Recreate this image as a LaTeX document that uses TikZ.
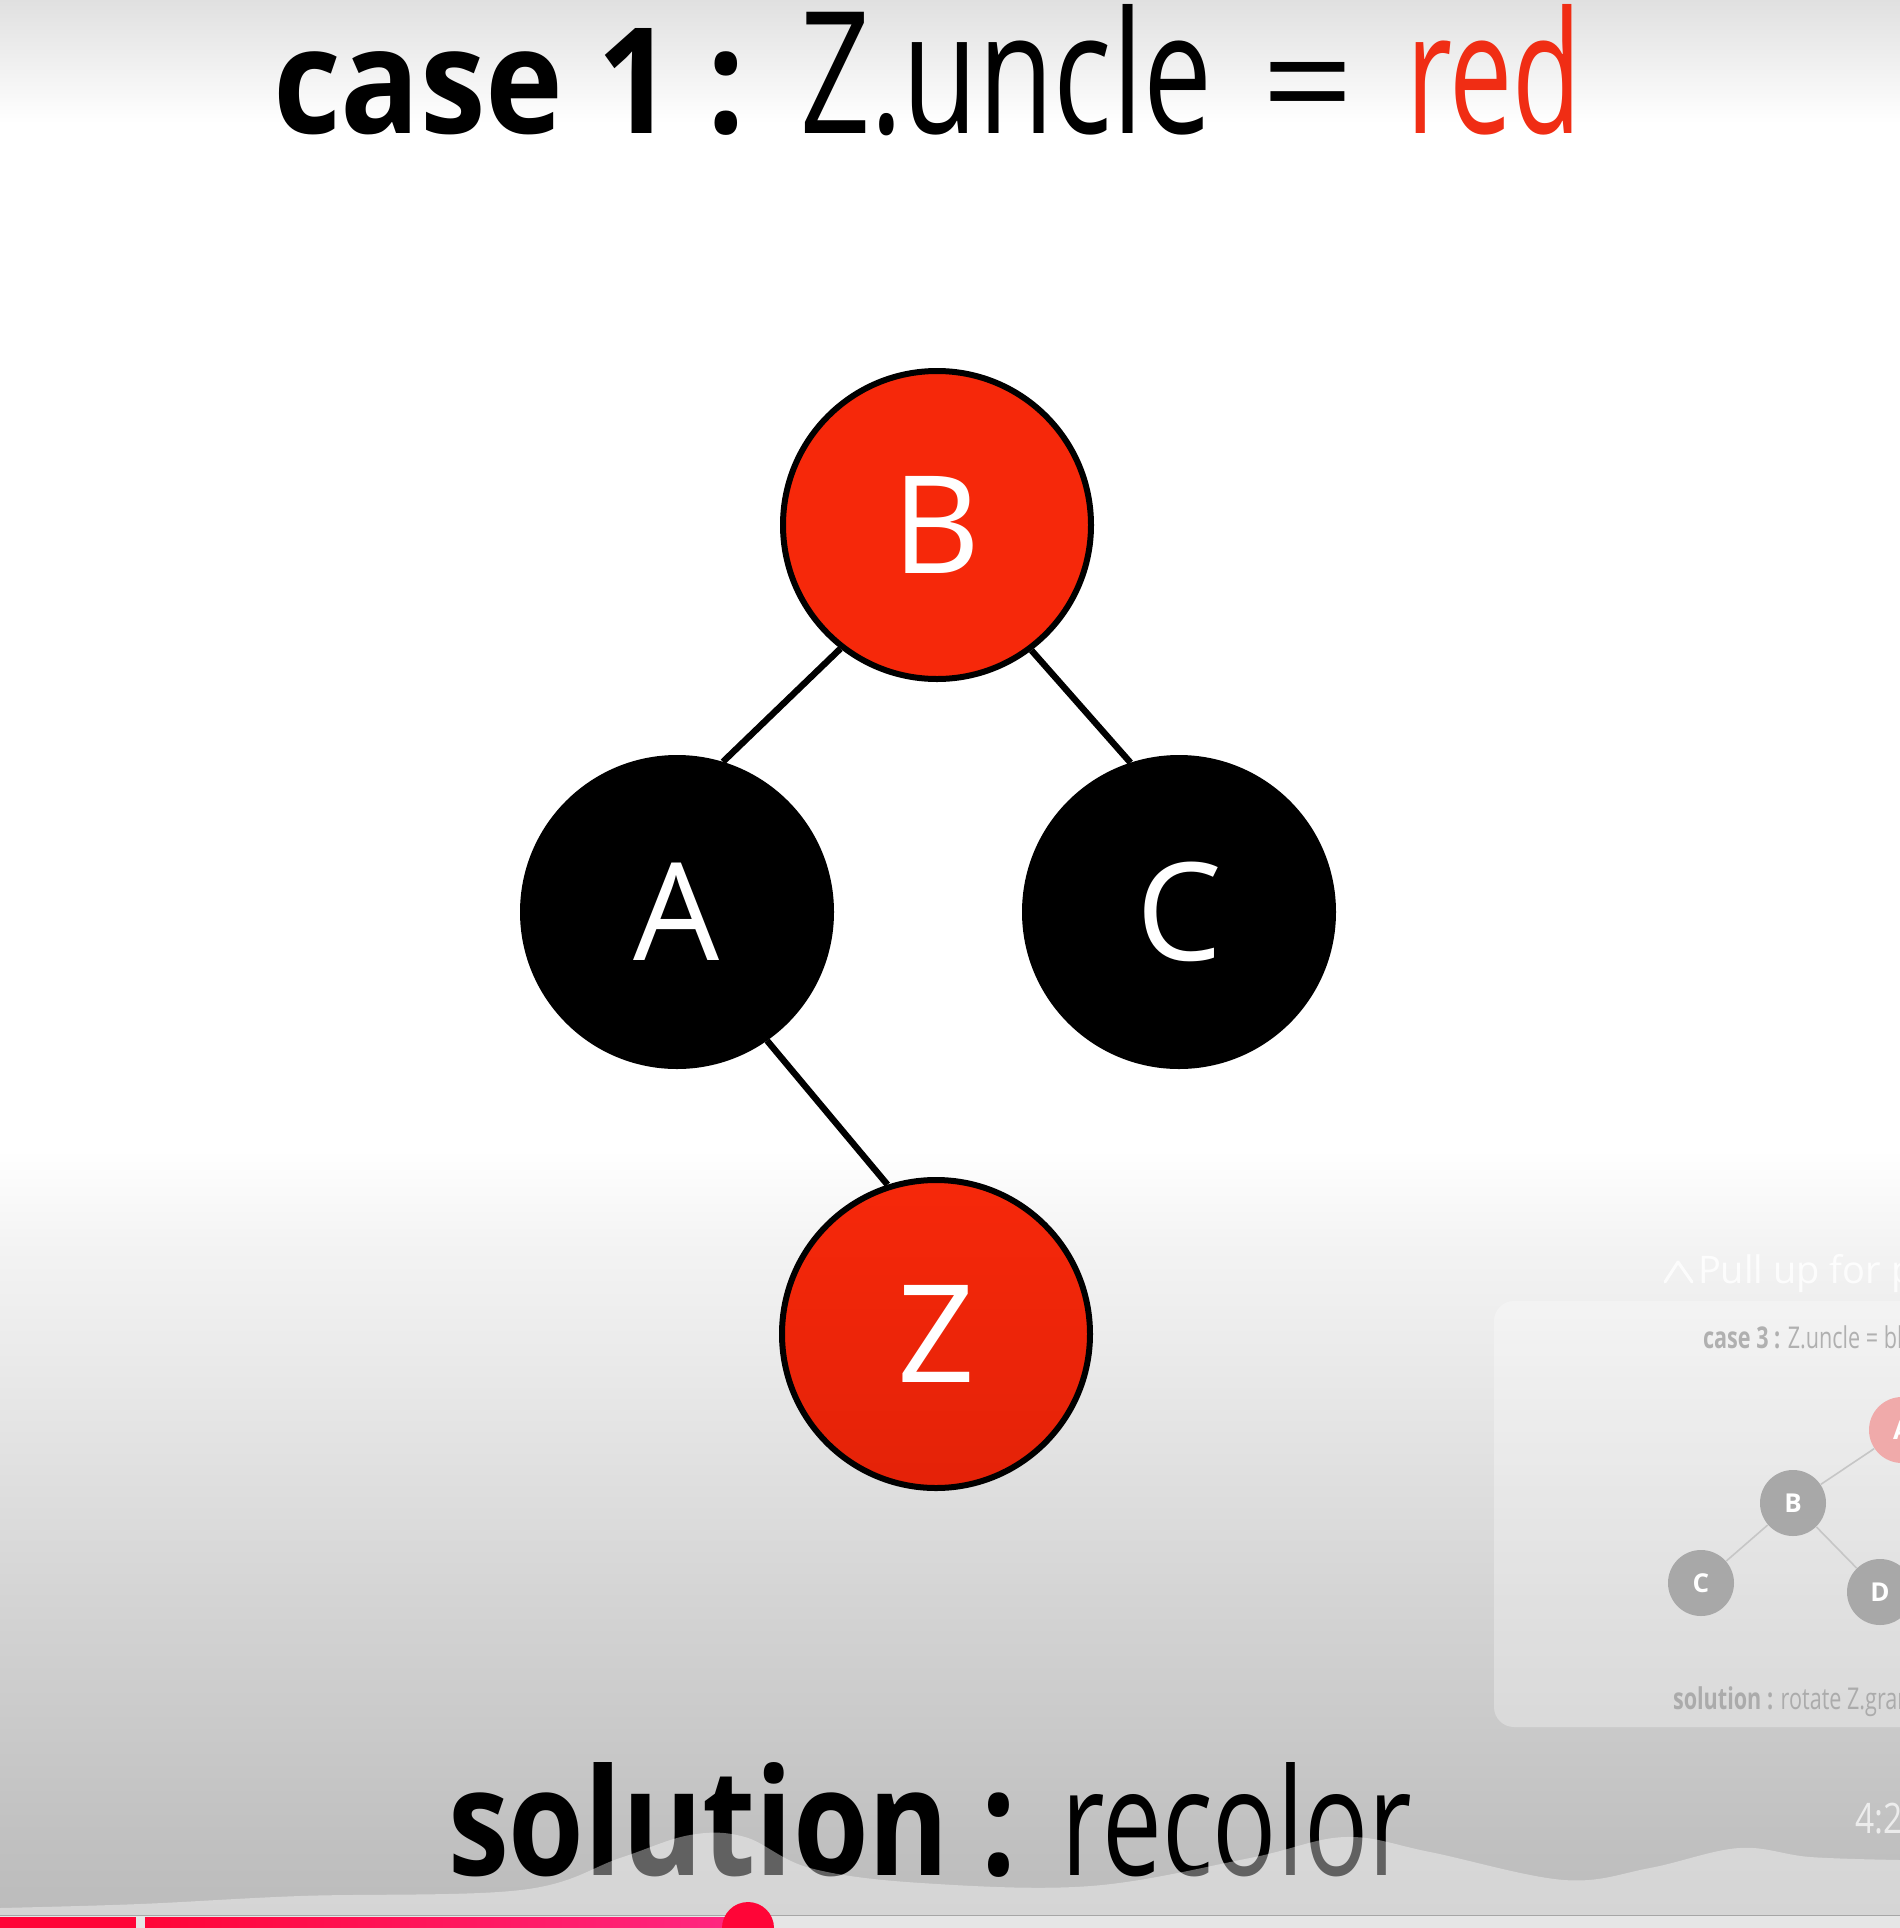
\documentclass[tikz,border=0pt]{standalone}
\usepackage{fontspec}
\setmainfont{Open Sans}
\usetikzlibrary{shapes.geometric}
\definecolor{nodered}{RGB}{246,40,10}
\definecolor{noderedd}{RGB}{228,34,8}
\definecolor{titlered}{RGB}{240,45,20}
\definecolor{bga}{RGB}{187,187,187}
\definecolor{bgb}{RGB}{192,192,192}
\definecolor{bgc}{RGB}{212,212,212}
\definecolor{bgd}{RGB}{235,235,235}
\definecolor{bgf}{RGB}{243,243,243}
\definecolor{bge}{RGB}{255,255,255}
\definecolor{bgtop}{RGB}{224,224,224}
\definecolor{barred}{RGB}{255,5,55}
\definecolor{barpink}{RGB}{255,40,130}
\definecolor{track}{RGB}{230,230,230}
\definecolor{minigray}{RGB}{168,168,168}
\definecolor{minipink}{RGB}{240,170,170}
\definecolor{thumbtext}{RGB}{160,160,160}
\pgfdeclareverticalshading{bgshade}{100bp}{color(0bp)=(bga); color(25bp)=(bga); color(27.15bp)=(bgb); color(33.5bp)=(bgc); color(40bp)=(bgd); color(42.6bp)=(bgf); color(45.2bp)=(bge); color(71.8bp)=(bge); color(75bp)=(bgtop); color(100bp)=(bgtop)}
\newcommand{\fitto}[3]{\resizebox{#1}{#2}{#3}}
\begin{document}
\begin{tikzpicture}[x=0.5pt,y=-0.5pt,
  tnode/.style={circle, minimum size=154pt, inner sep=0pt, line width=3pt, draw=black,
     text=white, font=\fontsize{68pt}{68pt}\selectfont},
  rednode/.style={tnode, fill=nodered},
  blacknode/.style={tnode, fill=black},
  edge/.style={line width=3.2pt, black},
  txt/.style={anchor=base west, inner sep=0pt, outer sep=0pt},
  mini/.style={circle, minimum size=33pt, inner sep=0pt, fill=minigray, text=white,
     font=\bfseries\fontsize{13pt}{13pt}\selectfont},
  miniedge/.style={line width=0.8pt, draw=gray!45}
]
\useasboundingbox (0,0) rectangle (1900,1928);
\clip (0,0) rectangle (1900,1928);
\shade[shading=bgshade] (0,0) rectangle (1900,1928);

% title
\node[txt] (t1) at (273,133) {\fitto{236pt}{52.5pt}{\bfseries case 1 :}};
\node[txt] (t2) at (800,133) {\fitto{206pt}{64.5pt}{Z.uncle}};
\node[txt] (t3) at (1261,133) {\fitto{46.5pt}{35.5pt}{=}};
\node[txt, text=titlered] (t4) at (1406,133) {\fitto{88pt}{64.5pt}{red}};

% tree
\node[rednode] (B) at (937,525) {B};
\node[blacknode] (A) at (677,912) {A};
\node[blacknode] (C) at (1179,912) {C};
\node[rednode, top color=nodered, bottom color=noderedd] (Z) at (936,1334) {Z};
\draw[edge] (B.232) -- (A.73);
\draw[edge] (B.307) -- (C.108);
\draw[edge] (A.305) -- (Z.108);

% thumbnail overlay
\fill[white, opacity=0.3, rounded corners=10pt] (1494,1301) rectangle (1960,1727);
\draw[white, opacity=0.8, line width=1.5pt, line cap=round, line join=round] (1665,1282) -- (1678,1262) -- (1692,1282);
\node[txt, text=white, opacity=0.85, font=\fontsize{19pt}{19pt}\selectfont] (pull) at (1698,1283) {Pull up for precise seeking};
\node[txt, text=thumbtext, opacity=0.8] (case3) at (1703,1348) {\scalebox{0.72}[1]{\fontsize{15pt}{15pt}\selectfont\textbf{case 3 :} Z.uncle = black}};
\node[mini, fill=minipink] (m0) at (1902,1430) {A};
\node[mini] (mB) at (1793,1503) {B};
\node[mini] (mC) at (1701,1583) {C};
\node[mini] (mD) at (1880,1592) {D};
\draw[miniedge] (mB) -- (m0);
\draw[miniedge] (mB) -- (mC);
\draw[miniedge] (mB) -- (mD);
\node[txt, text=thumbtext, opacity=0.8] (sol3) at (1673,1709) {\scalebox{0.72}[1]{\fontsize{15pt}{15pt}\selectfont\textbf{solution :} rotate Z.grandparent}};
\node[txt, text=white, opacity=0.7, font=\fontsize{21pt}{21pt}\selectfont] (time) at (1855,1833) {\scalebox{0.8}[1]{4:22}};

% bottom text
\node[txt] (s1) at (448,1875) {\fitto{284pt}{56.5pt}{\bfseries solution :}};
\node[txt] (s2) at (1061,1875) {\fitto{175.5pt}{56.5pt}{recolor}};

% wave overlay
\fill[white, opacity=0.38] (0,1928) -- plot[smooth, tension=0.6] coordinates {(0,1908) (140,1904) (300,1896) (521,1890) (620,1858) (690,1835) (745,1837) (810,1868) (921,1883) (1091,1886) (1250,1858) (1345,1837) (1430,1852) (1564,1880) (1650,1868) (1739,1848) (1810,1857) (1900,1860)} -- (1900,1928) -- cycle;

% progress bar
\fill[track] (0,1916) rectangle (1900,1928);
\draw[gray!70, line width=0.5pt] (0,1915) -- (1900,1915);
\fill[barred] (0,1917) rectangle (136,1928);
\shade[left color=barred, right color=barpink] (145,1917) rectangle (740,1928);
\fill[barred] (748,1928) circle[radius=26];
\end{tikzpicture}
\end{document}
